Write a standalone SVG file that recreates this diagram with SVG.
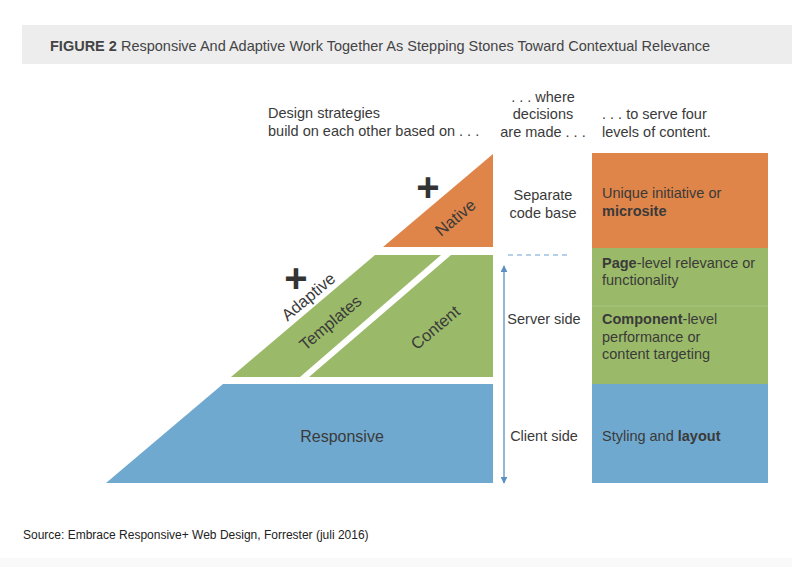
<svg xmlns="http://www.w3.org/2000/svg" width="792" height="567" viewBox="0 0 792 567">
<style>
text{font-family:"Liberation Sans",Arial,sans-serif;fill:#3a3a3a;font-size:14.5px}
.c{text-anchor:middle}
.b{font-weight:bold}
.rot{font-size:16.5px;text-anchor:middle}
.plus{font-size:40px;font-weight:bold;text-anchor:middle;fill:#333}
.big{font-size:16px}
.src{font-size:12px;fill:#222}
.title{fill:#444}
.orange{fill:#df8549}
.green{fill:#9aba69}
.blue{fill:#70a9cf}
</style>
<defs>
<marker id="ah" viewBox="0 0 10 10" refX="9" refY="5" markerWidth="7" markerHeight="7" orient="auto-start-reverse" markerUnits="userSpaceOnUse">
<path d="M0,0 L10,5 L0,10 z" fill="#5b8fc2"/>
</marker>
</defs>
<rect width="792" height="567" fill="#ffffff"/>
<rect x="22" y="25" width="770" height="39" fill="#ededee"/>
<rect x="0" y="558" width="792" height="9" fill="#f9f9f9"/>
<text class="title" x="50" y="51"><tspan class="b">FIGURE 2</tspan> Responsive And Adaptive Work Together As Stepping Stones Toward Contextual Relevance</text>

<g id="headers">
<text x="268" y="118">Design strategies</text>
<text x="268" y="136">build on each other based on . . .</text>
<text class="c" x="543" y="102">. . . where</text>
<text class="c" x="543" y="119">decisions</text>
<text class="c" x="543" y="137">are made . . .</text>
<text x="602" y="119">. . . to serve four</text>
<text x="602" y="137">levels of content.</text>
</g>

<g id="native">
<polygon class="orange" points="383,247 493,247 493,154"/>
<text class="rot" transform="translate(459,222) rotate(-40)">Native</text>
<text class="plus" x="428" y="201">+</text>
</g>

<g id="templates">
<polygon class="green" points="375,255 441,255 300,377 231,377"/>
<text class="rot" transform="translate(334,327) rotate(-40)">Templates</text>
</g>
<g id="adaptive-label">
<text class="rot" transform="translate(312,301) rotate(-40)">Adaptive</text>
<text class="plus" x="296" y="292">+</text>
</g>
<g id="content">
<polygon class="green" points="451,255 493,255 493,377 309,377"/>
<text class="rot" transform="translate(439,332) rotate(-40)">Content</text>
</g>

<g id="responsive">
<polygon class="blue" points="223,384 493,384 493,483 106,483"/>
<text class="c big" x="342" y="442">Responsive</text>
</g>

<g id="connectors">
<line x1="504" y1="266" x2="504" y2="483" stroke="#5b8fc2" stroke-width="1.3" marker-start="url(#ah)" marker-end="url(#ah)"/>
<line x1="508" y1="255" x2="571" y2="255" stroke="#6fa2cf" stroke-width="1.2" stroke-dasharray="5,4"/>
</g>

<g id="decision-labels">
<text class="c" x="543" y="200">Separate</text>
<text class="c" x="543" y="218">code base</text>
<text class="c" x="544" y="324">Server side</text>
<text class="c" x="544" y="441">Client side</text>
</g>

<g id="level-unique">
<rect class="orange" x="592" y="153" width="176" height="95"/>
<text x="602" y="198">Unique initiative or</text>
<text x="602" y="216" class="b">microsite</text>
</g>
<g id="level-page">
<rect class="green" x="592" y="248" width="176" height="58"/>
<text x="602" y="268"><tspan class="b">Page</tspan>-level relevance or</text>
<text x="602" y="285">functionality</text>
</g>
<g id="level-component">
<rect class="green" x="592" y="306" width="176" height="78"/>
<line x1="592" y1="306" x2="768" y2="306" stroke="#a8c57f" stroke-width="1"/>
<text x="602" y="324"><tspan class="b">Component</tspan>-level</text>
<text x="602" y="342">performance or</text>
<text x="602" y="359">content targeting</text>
</g>
<g id="level-styling">
<rect class="blue" x="592" y="384" width="176" height="99"/>
<text x="602" y="441">Styling and <tspan class="b">layout</tspan></text>
</g>

<text class="src" x="23" y="539">Source: Embrace Responsive+ Web Design, Forrester (juli 2016)</text>
</svg>
